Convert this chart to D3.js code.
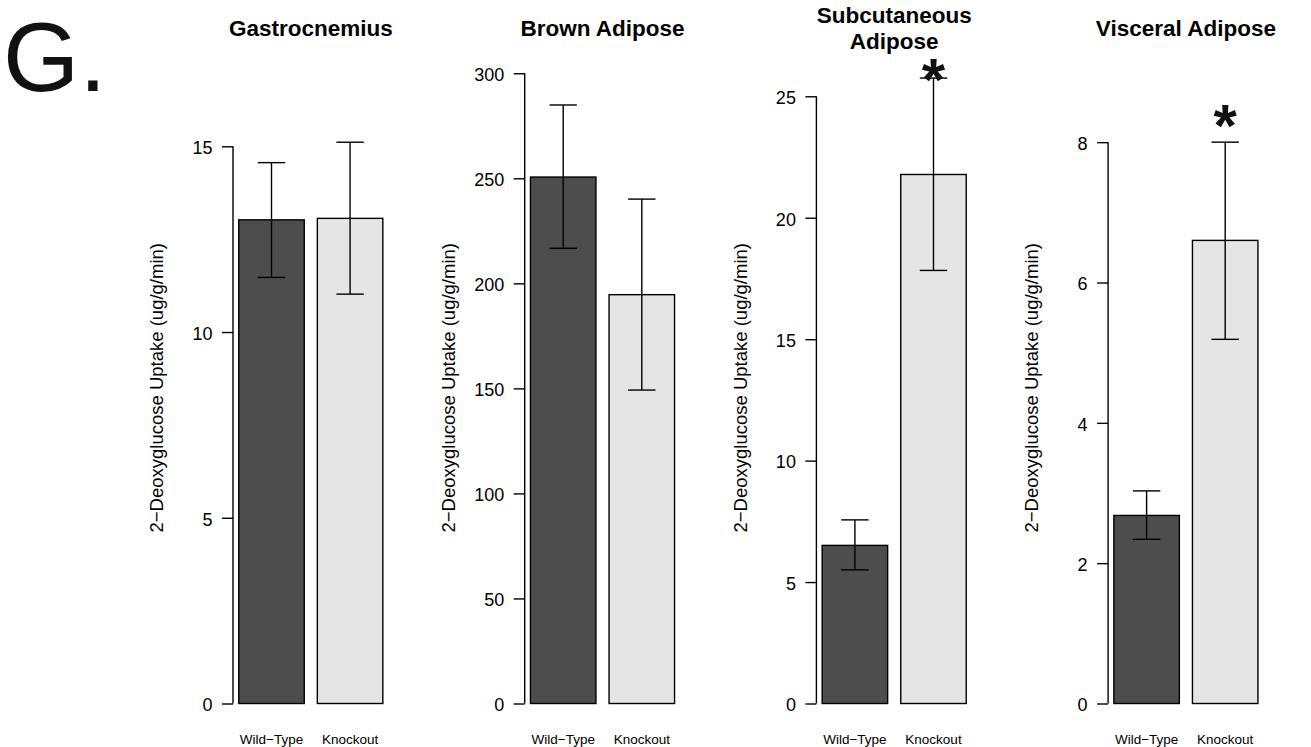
<!DOCTYPE html>
<html>
<head>
<meta charset="utf-8">
<script src="https://cdn.jsdelivr.net/npm/d3@7"></script>
<style>
  html, body { margin: 0; padding: 0; background: #fff; }
  svg { display: block; font-family: "Liberation Sans", Arial, Helvetica, sans-serif; }
</style>
</head>
<body>
<svg id="chart" width="1311" height="747"></svg>
<script>
// Tissue panels and genotype groups
const tissues = ["Gastrocnemius", "Brown Adipose", "Subcutaneous\nAdipose", "Visceral Adipose"];
const groups = ["Wild\u2212Type", "Knockout"];

// Mean uptake per tissue
const wildTypeMean = [13.02, 250.6, 6.51, 2.68];
const knockoutMean = [13.06, 194.6, 21.78, 6.60];

// Error bar limits per tissue
const wildTypeLow  = [11.47, 216.7, 5.50, 2.34];
const wildTypeHigh = [14.56, 284.9, 7.56, 3.03];
const knockoutLow  = [11.02, 149.2, 17.83, 5.19];
const knockoutHigh = [15.11, 240.1, 25.75, 8.00];

// Axis extents and ticks per tissue
const yLimits = [17, 300.6, 26, 9];
const yTicks = [
  [0, 5, 10, 15],
  [0, 50, 100, 150, 200, 250, 300],
  [0, 5, 10, 15, 20, 25],
  [0, 2, 4, 6, 8]
];

// Significance markers (value at which the asterisk sits, null = none)
const starAt = [null, null, 26.05, 8.36];

const yLabel = "2\u2212Deoxyglucose Uptake (ug/g/min)";
const fills = ["#4d4d4d", "#e5e5e5"];

const svg = d3.select("#chart");

// Panel letter
svg.append("text")
  .attr("x", 3).attr("y", 91)
  .attr("font-size", 98)
  .attr("fill", "#111")
  .text("G.");

const firstAxisX = 233, panelStep = 291.7, plotW = 155.6;
const plotTop = 72, plotBottom = 703.5;

tissues.forEach((name, i) => {
  const x0 = firstAxisX + i * panelStep;
  const g = svg.append("g");

  const x = d3.scaleBand()
    .domain(groups)
    .range([x0, x0 + plotW])
    .paddingInner(1 / 6)
    .paddingOuter(0.0733);

  const y = d3.scaleLinear()
    .domain([0, yLimits[i]])
    .range([plotBottom, plotTop]);

  const rows = [
    { grp: groups[0], mean: wildTypeMean[i], lo: wildTypeLow[i], hi: wildTypeHigh[i], fill: fills[0] },
    { grp: groups[1], mean: knockoutMean[i], lo: knockoutLow[i], hi: knockoutHigh[i], fill: fills[1] }
  ];

  // Bars
  g.selectAll("rect.bar").data(rows).enter().append("rect")
    .attr("class", "bar")
    .attr("x", d => x(d.grp))
    .attr("width", x.bandwidth())
    .attr("y", d => y(d.mean))
    .attr("height", d => y(0) - y(d.mean))
    .attr("fill", d => d.fill)
    .attr("stroke", "#000")
    .attr("stroke-width", 1.4);

  // Error bars
  const capHalf = 13.7;
  const eb = g.selectAll("g.err").data(rows).enter().append("g")
    .attr("class", "err")
    .attr("stroke", "#000")
    .attr("stroke-width", 1.4);
  eb.append("line")
    .attr("x1", d => x(d.grp) + x.bandwidth() / 2)
    .attr("x2", d => x(d.grp) + x.bandwidth() / 2)
    .attr("y1", d => y(d.lo)).attr("y2", d => y(d.hi));
  eb.append("line")
    .attr("x1", d => x(d.grp) + x.bandwidth() / 2 - capHalf)
    .attr("x2", d => x(d.grp) + x.bandwidth() / 2 + capHalf)
    .attr("y1", d => y(d.hi)).attr("y2", d => y(d.hi));
  eb.append("line")
    .attr("x1", d => x(d.grp) + x.bandwidth() / 2 - capHalf)
    .attr("x2", d => x(d.grp) + x.bandwidth() / 2 + capHalf)
    .attr("y1", d => y(d.lo)).attr("y2", d => y(d.lo));

  // Y axis: line spans first to last tick
  const ticks = yTicks[i];
  const axis = d3.axisLeft(y).tickValues(ticks).tickSize(11).tickPadding(9.5).tickSizeOuter(0);
  const ax = g.append("g")
    .attr("transform", `translate(${x0},0)`)
    .call(axis);
  ax.select(".domain").remove();
  ax.append("line")
    .attr("x1", 0).attr("x2", 0)
    .attr("y1", y(ticks[0])).attr("y2", y(ticks[ticks.length - 1]))
    .attr("stroke", "#000").attr("stroke-width", 1.4);
  ax.selectAll(".tick line").attr("stroke", "#000").attr("stroke-width", 1.4);
  ax.selectAll(".tick text")
    .attr("font-size", 18)
    .attr("font-family", "\"Liberation Sans\", Arial, sans-serif")
    .attr("fill", "#000")
    .attr("dy", null)
    .attr("dominant-baseline", "auto")
    .attr("y", 7.3);

  // Y axis title
  g.append("text")
    .attr("transform", `translate(${x0 - 69.7},${(plotTop + plotBottom) / 2}) rotate(-90)`)
    .attr("text-anchor", "middle")
    .attr("font-size", 18.5)
    .attr("fill", "#000")
    .text(yLabel);

  // Group labels
  g.selectAll("text.grp").data(groups).enter().append("text")
    .attr("class", "grp")
    .attr("x", d => x(d) + x.bandwidth() / 2)
    .attr("y", 744)
    .attr("text-anchor", "middle")
    .attr("font-size", 13.5)
    .attr("fill", "#000")
    .text(d => d);

  // Panel title (one or two lines, centred on the plot)
  const lines = name.split("\n");
  const cx = x0 + plotW / 2;
  const lineH = 25.4;
  const t = g.append("text")
    .attr("text-anchor", "middle")
    .attr("font-size", 22.5)
    .attr("font-weight", "bold")
    .attr("fill", "#000");
  lines.forEach((ln, k) => {
    t.append("tspan")
      .attr("x", cx)
      .attr("y", 36 + (k - (lines.length - 1) / 2) * lineH)
      .text(ln);
  });

  // Significance asterisk above the knockout bar
  if (starAt[i] !== null) {
    g.append("text")
      .attr("x", x(groups[1]) + x.bandwidth() / 2)
      .attr("y", y(starAt[i]))
      .attr("dy", "0.48em")
      .attr("text-anchor", "middle")
      .attr("font-size", 60)
      .attr("font-weight", "bold")
      .attr("fill", "#111")
      .text("*");
  }
});
</script>
</body>
</html>
